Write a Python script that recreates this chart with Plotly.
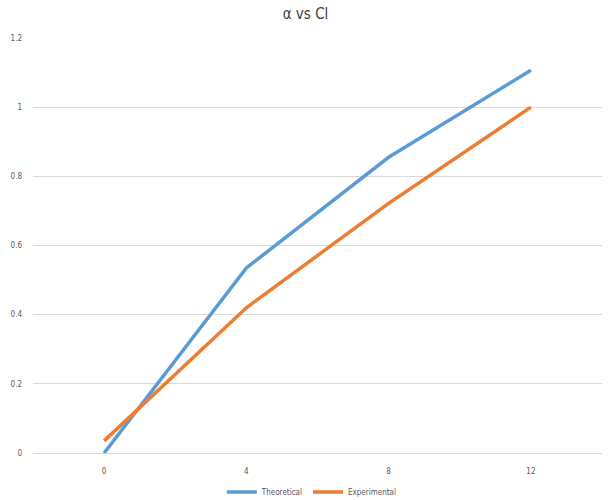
import plotly.graph_objects as go

# Angle of attack (deg) and lift coefficient values
alpha = ["0", "4", "8", "12"]
cl_theoretical = [0.0, 0.535, 0.855, 1.107]
cl_experimental = [0.035, 0.42, 0.722, 1.0]

BLUE = "#5B9BD5"
ORANGE = "#ED7D31"
GRID = "#d9d9d9"
TEXT = "#595959"
FONT = "DejaVu Sans Condensed, Liberation Sans Narrow, Arial"

fig = go.Figure()
fig.add_trace(go.Scatter(x=alpha, y=cl_theoretical, mode="lines", name="Theoretical",
                         line=dict(color=BLUE, width=3.5)))
fig.add_trace(go.Scatter(x=alpha, y=cl_experimental, mode="lines", name="Experimental",
                         line=dict(color=ORANGE, width=3.5)))

fig.update_layout(
    width=611, height=500,
    paper_bgcolor="white", plot_bgcolor="white",
    margin=dict(l=33, r=9, t=38, b=47),
    title=dict(text="α vs Cl", x=0.5, xanchor="center", y=0.972, yanchor="middle",
               font=dict(family=FONT, size=15, color="#404040")),
    font=dict(family=FONT, size=8, color=TEXT),
    showlegend=True,
    legend=dict(orientation="h", x=0.49, xanchor="center", xref="paper",
                y=0.016, yanchor="middle", yref="container",
                font=dict(size=8, color=TEXT), itemwidth=30, tracegroupgap=0,
                bgcolor="rgba(0,0,0,0)"),
    xaxis=dict(type="category", range=[-0.5, 3.5], showgrid=False, zeroline=False,
               showline=False, ticks="", ticklabelstandoff=12, automargin=False,
               tickfont=dict(size=8, color=TEXT)),
    yaxis=dict(range=[0, 1.2], dtick=0.2, showgrid=True, gridcolor=GRID, gridwidth=1,
               zeroline=True, zerolinecolor=GRID, zerolinewidth=1, showline=False,
               ticks="", ticklabelstandoff=10, automargin=False,
               tickfont=dict(size=8, color=TEXT), tickformat="~g"),
)

fig.write_html("out.html")
